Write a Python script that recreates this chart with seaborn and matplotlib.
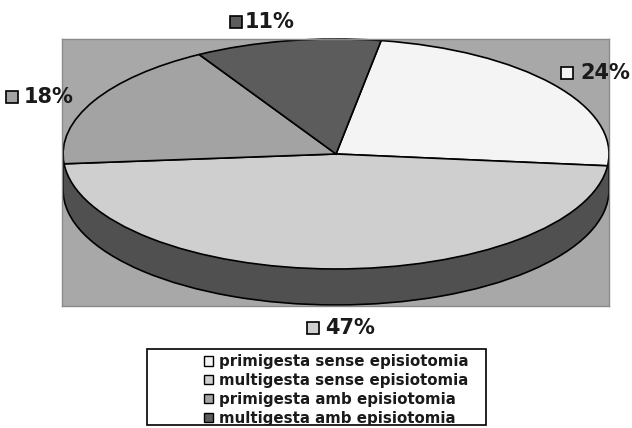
import numpy as np
import matplotlib
matplotlib.use('Agg')
import matplotlib.pyplot as plt
from matplotlib.patches import Patch, Rectangle
import seaborn as sns

sns.set_style('white')
plt.rcParams['font.family'] = ['DejaVu Sans']

# data (legend order)
categories = ['primigesta sense episiotomia', 'multigesta sense episiotomia',
              'primigesta amb episiotomia', 'multigesta amb episiotomia']
values = [24, 47, 18, 11]
pct_labels = ['24%', '47%', '18%', '11%']

colors = ['#f4f4f4', '#cfcfcf', '#a3a3a3', '#5c5c5c']
side_color = '#505050'
bg_color = '#a8a8a8'

fig = plt.figure(figsize=(6.32, 4.28), dpi=100)
fig.patch.set_facecolor('white')

# gray plot area
ax = fig.add_axes([62 / 632, 122 / 428, 547 / 632, 267 / 428])
ax.set_facecolor(bg_color)

depth = 0.313

# side of the "3D" pie
ax.pie([1], colors=[side_color], center=(0, -depth), startangle=0,
       wedgeprops=dict(edgecolor='black', linewidth=1.2))
ax.add_patch(Rectangle((-1, -depth), 2, depth, facecolor=side_color,
                       edgecolor='none', zorder=1.5))
ax.vlines([-1, 1], -depth, 0, colors='black', linewidth=1.2, zorder=1.6)

# top face
wedges, _ = ax.pie(values, colors=colors, startangle=80.5, counterclock=False,
                   wedgeprops=dict(edgecolor='black', linewidth=1.2))
for w in wedges:
    w.set_zorder(2)

ax.set_aspect('auto')
ax.set_xlim(-1.004, 1.0)
ax.set_ylim(-1.322, 1.0)
ax.set_frame_on(True)
for s in ax.spines.values():
    s.set_visible(True)
    s.set_color('#8a8a8a')
    s.set_linewidth(1)
ax.set_xticks([])
ax.set_yticks([])

# percentage labels with small colour keys
label_pos = [(0.894, 0.70), (-0.040, -1.513), (-1.143, 0.496), (-0.333, 1.148)]
key_pos = [0.846, -0.084, -1.187, -0.366]
for lab, (tx, ty), kx, c in zip(pct_labels, label_pos, key_pos, colors):
    ax.plot([kx], [ty], marker='s', markersize=8, markerfacecolor=c,
            markeredgecolor='black', markeredgewidth=1.2, clip_on=False, zorder=5)
    ax.text(tx, ty, lab, ha='left', va='center', fontsize=15, fontweight='bold',
            color='#1a1a1a', clip_on=False, zorder=5)

# legend box
box = Rectangle((147 / 632, 3 / 428), 339 / 632, 76 / 428,
                transform=fig.transFigure, facecolor='white',
                edgecolor='black', linewidth=1.2)
fig.add_artist(box)
handles = [Patch(facecolor=c, edgecolor='black', linewidth=1.0) for c in colors]
leg = fig.legend(handles, categories, loc='upper left',
                 bbox_to_anchor=(204 / 632, (428 - 354) / 428),
                 frameon=False, borderpad=0, borderaxespad=0,
                 handlelength=0.62, handleheight=0.62, handletextpad=0.4,
                 labelspacing=0.26, prop=dict(size=10.8, weight='bold'))
for t in leg.get_texts():
    t.set_color('#1a1a1a')
    t.set_clip_path(box)
for h in leg.legend_handles:
    h.set_clip_path(box)

fig.savefig('out.png', dpi=100)
